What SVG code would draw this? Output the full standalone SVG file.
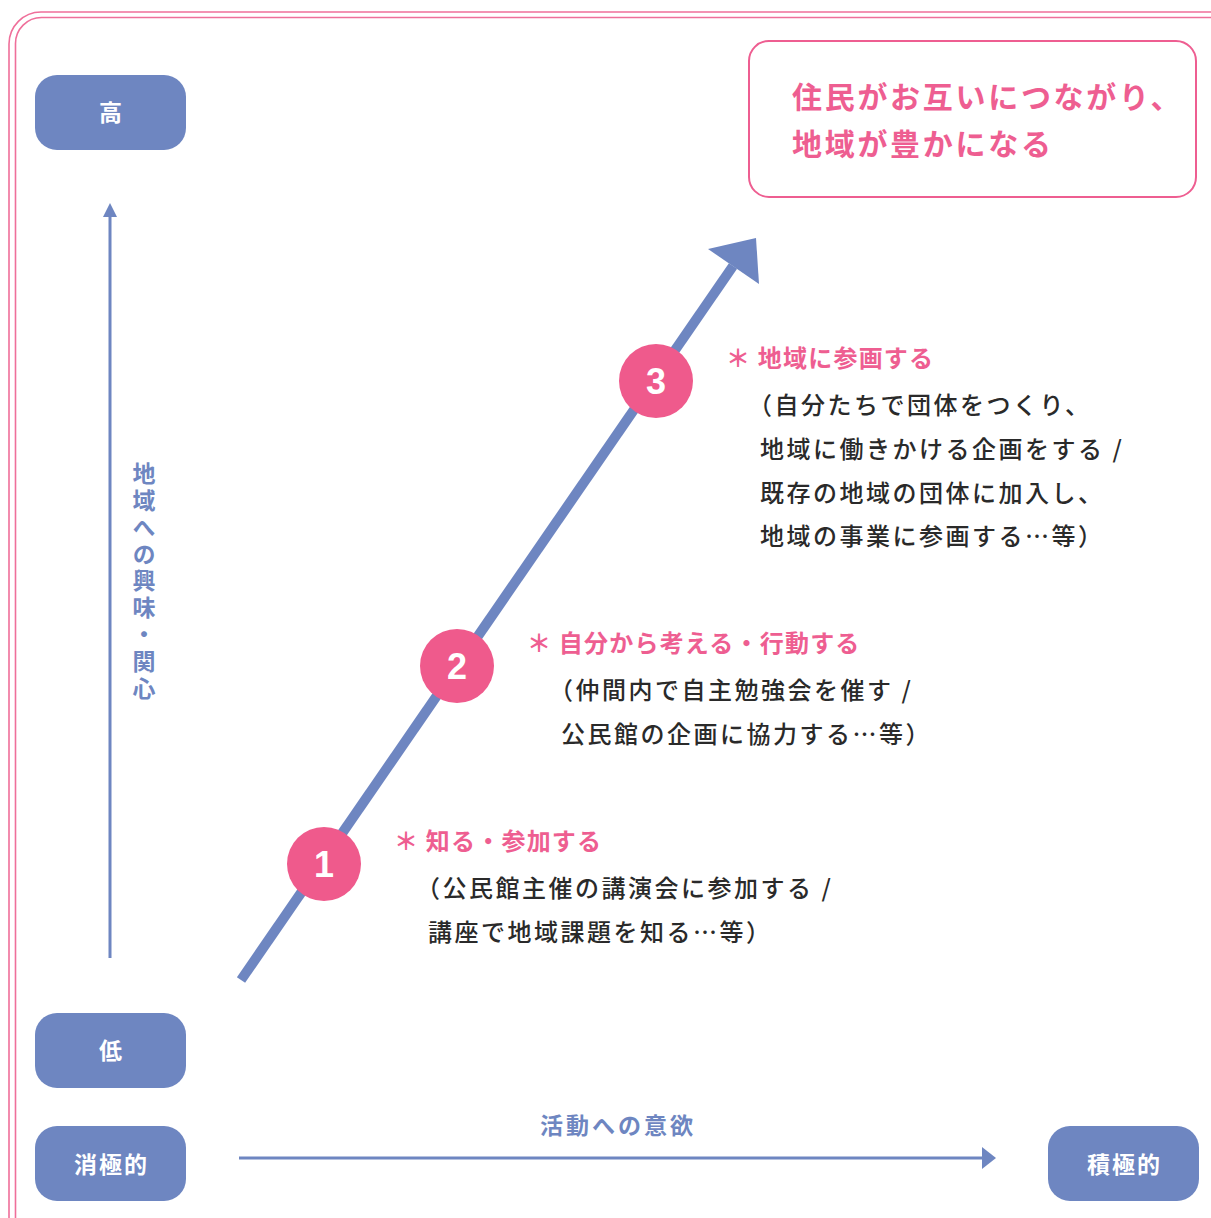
<svg xmlns="http://www.w3.org/2000/svg" width="1211" height="1218" viewBox="0 0 1211 1218">
<style>
.frame{fill:none;stroke:#EF6F9A;stroke-width:1.6}
.lbl{fill:#6E86C1}
.lbltxt{font-family:"Noto Sans CJK JP","Noto Sans CJK SC",sans-serif;font-size:23px;font-weight:700;fill:#fff;text-anchor:middle;letter-spacing:2px}
.axis{stroke:#6E86C1;stroke-width:3;fill:none}
.axistxt{font-family:"Noto Sans CJK JP","Noto Sans CJK SC",sans-serif;font-size:23px;font-weight:700;fill:#6E86C1}
.goal{fill:#fff;stroke:#EE5E91;stroke-width:2}
.goaltxt{font-family:"Noto Sans CJK JP","Noto Sans CJK SC",sans-serif;font-size:30px;font-weight:700;fill:#EE5E91;letter-spacing:2.7px}
.num{fill:#EF5A8C}
.numtxt{font-family:"Liberation Sans","Noto Sans",sans-serif;font-size:36px;font-weight:700;fill:#fff;text-anchor:middle}
.ttl{font-family:"Noto Sans CJK JP","Noto Sans CJK SC",sans-serif;font-size:24px;font-weight:700;fill:#EE5E91;letter-spacing:1.2px}
.body{font-family:"Noto Sans CJK JP","Noto Sans CJK SC",sans-serif;font-size:24px;font-weight:500;fill:#2a2a2a;letter-spacing:2.5px}
</style>
<rect class="frame" x="9" y="12" width="1240" height="1240" rx="32"/>
<rect class="frame" x="15.5" y="17.5" width="1240" height="1240" rx="26"/>

<g id="connectors">
<line class="axis" x1="110" y1="958" x2="110" y2="216"/>
<path d="M110,203 L117,217 L103,217 z" fill="#6E86C1"/>
<line class="axis" x1="239" y1="1158" x2="984" y2="1158"/>
<path d="M996,1158 L982,1147 L982,1169 z" fill="#6E86C1"/>
<line x1="241" y1="980" x2="733" y2="266" stroke="#6E86C1" stroke-width="10"/>
<path d="M756,238 L759,284 L708,249 z" fill="#6E86C1"/>
</g>

<g id="high"><rect class="lbl" x="35" y="75" width="151" height="75" rx="22"/><text class="lbltxt" x="111.5" y="121">高</text></g>
<g id="low"><rect class="lbl" x="35" y="1013" width="151" height="75" rx="22"/><text class="lbltxt" x="111.5" y="1059">低</text></g>
<g id="passive"><rect class="lbl" x="35" y="1126" width="151" height="75" rx="22"/><text class="lbltxt" x="111.5" y="1173">消極的</text></g>
<g id="active"><rect class="lbl" x="1048" y="1126" width="151" height="75" rx="22"/><text class="lbltxt" x="1124.5" y="1173">積極的</text></g>

<g id="y-axis-label">
<text class="axistxt" x="144" y="462" style="writing-mode:vertical-rl;text-orientation:upright" letter-spacing="3.8">地域への興味・関心</text>
</g>
<g id="x-axis-label"><text class="axistxt" x="618" y="1134" text-anchor="middle" letter-spacing="3">活動への意欲</text></g>

<g id="goal">
<rect class="goal" x="749" y="41" width="447" height="156" rx="20"/>
<text class="goaltxt" x="792" y="108">住民がお互いにつながり、</text>
<text class="goaltxt" x="792" y="155">地域が豊かになる</text>
</g>

<g id="step1">
<circle class="num" cx="324" cy="864" r="37"/>
<text class="numtxt" x="324" y="877">1</text>
<text class="ttl" x="394" y="850">＊ 知る・参加する</text>
<text class="body" x="416" y="897">（公民館主催の講演会に参加する /</text>
<text class="body" x="428" y="941">講座で地域課題を知る…等）</text>
</g>

<g id="step2">
<circle class="num" cx="457" cy="666" r="37"/>
<text class="numtxt" x="457" y="679">2</text>
<text class="ttl" x="527" y="652">＊ 自分から考える・行動する</text>
<text class="body" x="549" y="699">（仲間内で自主勉強会を催す /</text>
<text class="body" x="561" y="743">公民館の企画に協力する…等）</text>
</g>

<g id="step3">
<circle class="num" cx="656" cy="381" r="37"/>
<text class="numtxt" x="656" y="394">3</text>
<text class="ttl" x="726" y="367">＊ 地域に参画する</text>
<text class="body" x="748" y="414">（自分たちで団体をつくり、</text>
<text class="body" x="760" y="458">地域に働きかける企画をする /</text>
<text class="body" x="760" y="502">既存の地域の団体に加入し、</text>
<text class="body" x="760" y="545">地域の事業に参画する…等）</text>
</g>
</svg>
